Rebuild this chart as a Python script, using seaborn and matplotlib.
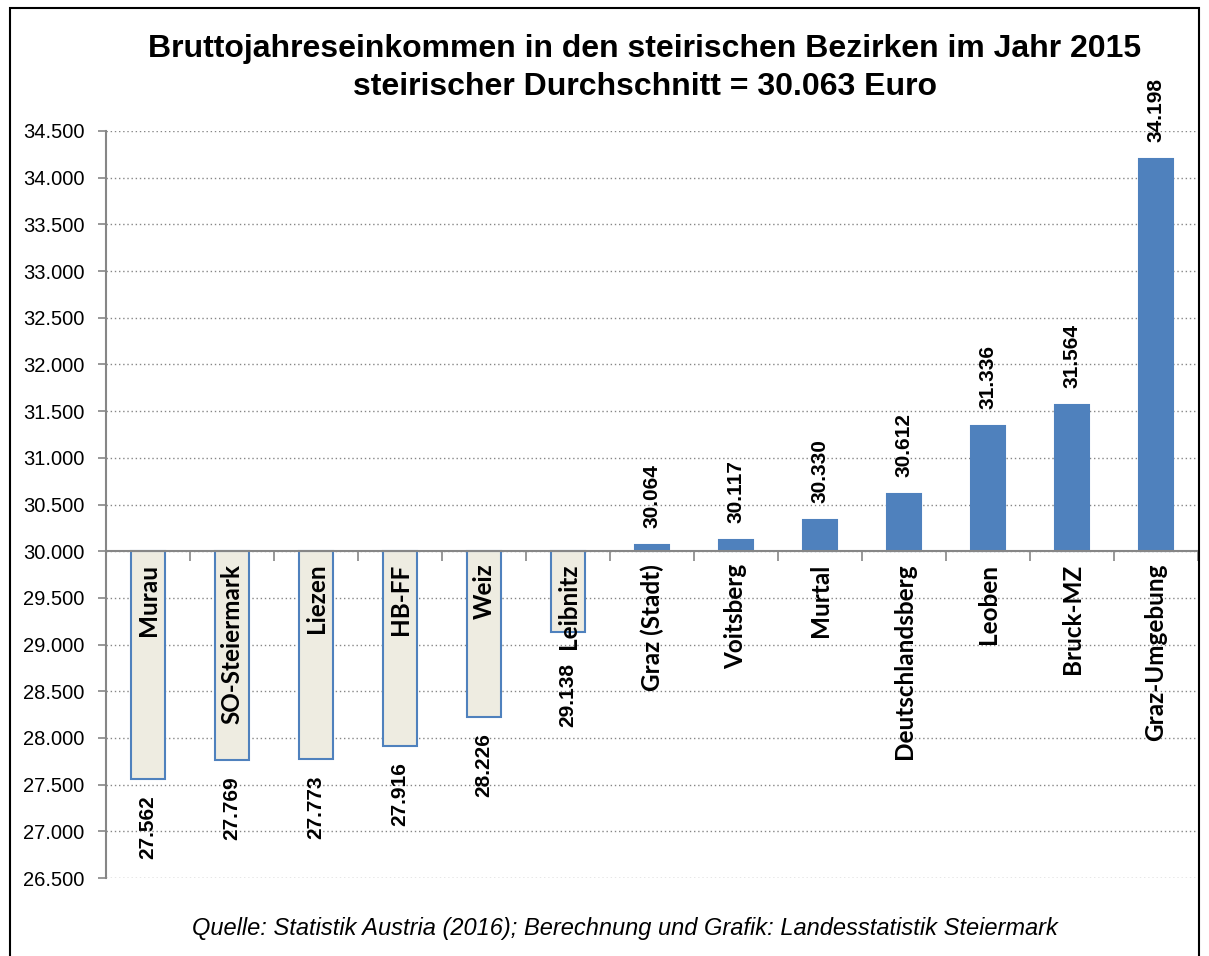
import matplotlib
matplotlib.use("Agg")
import matplotlib.pyplot as plt
import seaborn as sns
import pandas as pd
from matplotlib.patches import Rectangle
from matplotlib.ticker import FixedLocator, FuncFormatter

districts = ["Murau", "SO-Steiermark", "Liezen", "HB-FF", "Weiz", "Leibnitz",
             "Graz (Stadt)", "Voitsberg", "Murtal", "Deutschlandsberg",
             "Leoben", "Bruck-MZ", "Graz-Umgebung"]
income = [27562, 27769, 27773, 27916, 28226, 29138,
          30064, 30117, 30330, 30612, 31336, 31564, 34198]
baseline = 30000
y_ticks = list(range(26500, 34501, 500))
title_line1 = "Bruttojahreseinkommen in den steirischen Bezirken im Jahr 2015"
title_line2 = "steirischer Durchschnitt = 30.063 Euro"
source = "Quelle: Statistik Austria (2016); Berechnung und Grafik: Landesstatistik Steiermark"

BLUE = "#4F81BD"
BEIGE = "#EEECE1"
GRID = "#868686"

df = pd.DataFrame({"district": districts, "income": income})
df["delta"] = df["income"] - baseline
df["side"] = ["below" if v < baseline else "above" for v in income]

sns.set_theme(style="white")
plt.rcParams["font.family"] = ["Liberation Sans", "DejaVu Sans"]
plt.rcParams["text.color"] = "black"
plt.rcParams["xtick.color"] = "black"
plt.rcParams["ytick.color"] = "black"

fig = plt.figure(figsize=(12.09, 9.56), dpi=100)
ax = fig.add_axes([106 / 1209, 1 - 878 / 956, (1198 - 106) / 1209, (878 - 131) / 956])

sns.barplot(data=df, x="district", y="delta", hue="side",
            palette={"below": BEIGE, "above": BLUE}, dodge=False, legend=False,
            saturation=1, width=0.4, bottom=baseline, edgecolor=BLUE,
            linewidth=1.5, zorder=3, ax=ax)

ax.set_ylim(y_ticks[0], y_ticks[-1])
ax.set_xlim(-0.5, len(districts) - 0.5)
ax.yaxis.set_major_locator(FixedLocator(y_ticks))
ax.yaxis.set_major_formatter(FuncFormatter(lambda v, p: f"{int(v):,}".replace(",", ".")))
ax.grid(axis="y", linestyle=(0, (1, 2)), color=GRID, linewidth=1.0, zorder=0)
ax.grid(axis="x", visible=False)
ax.set_axisbelow(True)

for s in ["top", "right"]:
    ax.spines[s].set_visible(False)
ax.spines["left"].set_color(GRID)
ax.spines["left"].set_linewidth(1.5)
ax.spines["bottom"].set_position(("data", baseline))
ax.spines["bottom"].set_color(GRID)
ax.spines["bottom"].set_linewidth(1.5)
ax.spines["bottom"].set_zorder(4)

ax.tick_params(axis="y", which="major", direction="out", length=6, width=1.2,
               color=GRID, labelsize=14.5, labelcolor="black", pad=9.5, left=True)
ax.set_xticks([i - 0.5 for i in range(len(districts) + 1)])
ax.set_xticklabels([])
ax.tick_params(axis="x", which="major", direction="out", length=7, width=1.2,
               color=GRID, bottom=True)
ax.set_xlabel("")
ax.set_ylabel("")

name_anns = []
value_anns = []
for i, (name, v) in enumerate(zip(districts, income)):
    na = ax.annotate(name, xy=(i, baseline), xytext=(0, -9), textcoords="offset points",
                     rotation=90, ha="center", va="top", fontsize=17.5,
                     fontweight="bold", family=["Lato", "DejaVu Sans"], zorder=6)
    name_anns.append(na)
    label = f"{v:,}".replace(",", ".")
    if v >= baseline:
        va_ = ax.annotate(label, xy=(i, v), xytext=(0, 12.5), textcoords="offset points",
                          rotation=90, ha="center", va="bottom", fontsize=15,
                          fontweight="bold", zorder=6)
    else:
        va_ = ax.annotate(label, xy=(i, v), xytext=(0, -12), textcoords="offset points",
                          rotation=90, ha="center", va="top", fontsize=15,
                          fontweight="bold", zorder=6)
    value_anns.append(va_)

# push negative value labels below their category name if they would collide
fig.canvas.draw()
renderer = fig.canvas.get_renderer()
px_per_pt = fig.dpi / 72.0
for i, v in enumerate(income):
    if v >= baseline:
        continue
    nb = name_anns[i].get_window_extent(renderer)
    vb = value_anns[i].get_window_extent(renderer)
    if vb.y1 > nb.y0:
        bar_end_px = ax.transData.transform((i, v))[1]
        new_top = nb.y0 - 14
        value_anns[i].xyann = (0, (new_top - bar_end_px) / px_per_pt)

fig.text(645 / 1209, 1 - 57 / 956, title_line1, ha="center", va="baseline",
         fontsize=23, fontweight="bold")
fig.text(645 / 1209, 1 - 95 / 956, title_line2, ha="center", va="baseline",
         fontsize=23, fontweight="bold")
fig.text(625 / 1209, 1 - 935 / 956, source, ha="center", va="baseline",
         fontsize=17, style="italic")

fig.add_artist(Rectangle((10 / 1209, -0.01), (1199 - 10) / 1209, (1 - 8 / 956) + 0.01,
                         transform=fig.transFigure, fill=False, edgecolor="black",
                         linewidth=1.5))

fig.savefig("out.png", dpi=100)
